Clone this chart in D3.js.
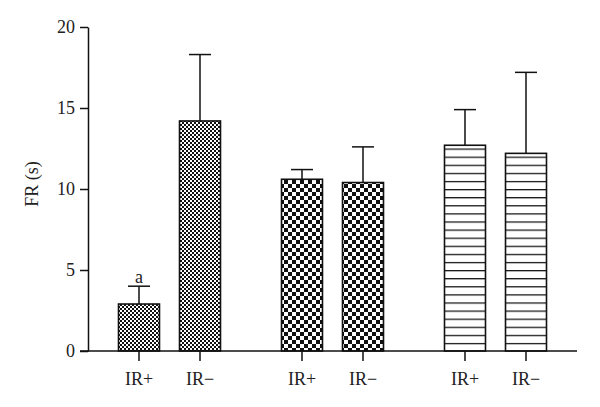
<!DOCTYPE html>
<html>
<head>
<meta charset="utf-8">
<script src="https://d3js.org/d3.v7.min.js"></script>
<style>
  body { margin: 0; background: #fff; }
  text { font-family: "Liberation Serif", "Times New Roman", serif; fill: #222; }
</style>
</head>
<body>
<div id="chart"></div>
<script>
// data
var groups = ["g1", "g2", "g3"];
var conditions = ["IR+", "IR\u2212"];
var means = [2.9, 14.2, 10.6, 10.4, 12.7, 12.2];
var sds = [1.1, 4.1, 0.6, 2.2, 2.2, 5.0];
var marks = ["a", "", "", "", "", ""];
var yTicks = [0, 5, 10, 15, 20];

var width = 600, height = 407;
var margin = { top: 27, right: 23, bottom: 56, left: 88 };

var svg = d3.select("#chart").append("svg")
    .attr("width", width)
    .attr("height", height);

// fill patterns
var defs = svg.append("defs");
var base = height - margin.bottom;

var fine = defs.append("pattern").attr("id", "fine")
    .attr("patternUnits", "userSpaceOnUse")
    .attr("width", 4).attr("height", 4);
fine.append("rect").attr("width", 4).attr("height", 4).attr("fill", "#fff");
fine.append("rect").attr("width", 2).attr("height", 2).attr("fill", "#111");
fine.append("rect").attr("x", 2).attr("y", 2).attr("width", 2).attr("height", 2).attr("fill", "#111");

var coarse = defs.append("pattern").attr("id", "coarse")
    .attr("patternUnits", "userSpaceOnUse")
    .attr("width", 8).attr("height", 8);
coarse.append("rect").attr("width", 8).attr("height", 8).attr("fill", "#fff");
coarse.append("rect").attr("width", 4).attr("height", 4).attr("fill", "#111");
coarse.append("rect").attr("x", 4).attr("y", 4).attr("width", 4).attr("height", 4).attr("fill", "#111");

var stripes = defs.append("pattern").attr("id", "stripes")
    .attr("patternUnits", "userSpaceOnUse")
    .attr("y", base)
    .attr("width", 8).attr("height", 8.1);
stripes.append("rect").attr("width", 8).attr("height", 8.1).attr("fill", "#fff");
stripes.append("line").attr("x1", 0).attr("x2", 8).attr("y1", 0.5).attr("y2", 0.5)
    .attr("stroke", "#111").attr("stroke-width", 1.5);

var fills = ["url(#fine)", "url(#coarse)", "url(#stripes)"];

// scales
var x = d3.scaleBand().domain(groups).range([margin.left, width - margin.right]);
var xi = d3.scaleBand().domain(conditions).range([30.5, 132.5]).paddingInner(0.328);
var y = d3.scaleLinear().domain([0, 20]).range([base, margin.top]);

var bars = [];
groups.forEach(function (g, gi) {
  conditions.forEach(function (c, ci) {
    var k = gi * conditions.length + ci;
    bars.push({ g: g, c: c, gi: gi, mean: means[k], sd: sds[k], mark: marks[k] });
  });
});
function cx(d) { return x(d.g) + xi(d.c) + xi.bandwidth() / 2; }

// error bars
var capW = 22;
var err = svg.append("g").attr("stroke", "#111").attr("stroke-width", 1.5);
err.selectAll(".stem").data(bars).enter().append("line")
    .attr("x1", cx).attr("x2", cx)
    .attr("y1", function (d) { return y(d.mean); })
    .attr("y2", function (d) { return y(d.mean + d.sd); });
err.selectAll(".cap").data(bars).enter().append("line")
    .attr("x1", function (d) { return cx(d) - capW / 2; })
    .attr("x2", function (d) { return cx(d) + capW / 2; })
    .attr("y1", function (d) { return y(d.mean + d.sd); })
    .attr("y2", function (d) { return y(d.mean + d.sd); });

// bars
svg.append("g").selectAll("rect").data(bars).enter().append("rect")
    .attr("x", function (d) { return x(d.g) + xi(d.c); })
    .attr("width", xi.bandwidth())
    .attr("y", function (d) { return y(d.mean); })
    .attr("height", function (d) { return base - y(d.mean); })
    .attr("fill", function (d) { return fills[d.gi]; })
    .attr("stroke", "#111")
    .attr("stroke-width", 1.6);

// significance marks
svg.append("g").selectAll("text").data(bars.filter(function (d) { return d.mark; }))
    .enter().append("text")
    .attr("x", cx)
    .attr("y", function (d) { return y(d.mean + d.sd) - 3; })
    .attr("text-anchor", "middle")
    .style("font-size", "18px")
    .text(function (d) { return d.mark; });

// y axis
var yAxis = svg.append("g")
    .attr("transform", "translate(" + margin.left + ",0)")
    .call(d3.axisLeft(y).tickValues(yTicks).tickSize(8).tickSizeOuter(0).tickPadding(5));
yAxis.select(".domain").attr("stroke", "#111").attr("stroke-width", 1.5);
yAxis.selectAll(".tick line").attr("stroke", "#111").attr("stroke-width", 1.5);
yAxis.selectAll(".tick text")
    .style("font-family", "'Liberation Serif', serif")
    .style("font-size", "18px").attr("fill", "#222");

svg.append("text")
    .attr("transform", "rotate(-90)")
    .attr("x", -184)
    .attr("y", 38)
    .attr("text-anchor", "middle")
    .style("font-size", "18px")
    .text("FR (s)");

// x axis
var xAxis = svg.append("g").attr("stroke", "#111").attr("stroke-width", 1.5);
xAxis.append("line")
    .attr("x1", margin.left - 8).attr("x2", width - margin.right)
    .attr("y1", base).attr("y2", base);
xAxis.selectAll(".tk").data(bars).enter().append("line")
    .attr("x1", cx).attr("x2", cx)
    .attr("y1", base).attr("y2", base + 10);
svg.append("g").selectAll("text").data(bars).enter().append("text")
    .attr("x", cx)
    .attr("y", base + 34)
    .attr("text-anchor", "middle")
    .style("font-size", "18px")
    .text(function (d) { return d.c; });
</script>
</body>
</html>
